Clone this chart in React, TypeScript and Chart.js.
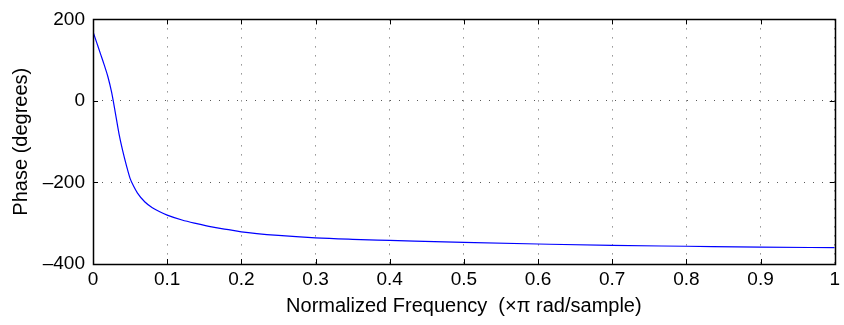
import React, { useEffect, useRef } from "react";
import { Chart, registerables } from "chart.js";

Chart.register(...registerables);

const freq = [0, 0.005, 0.01, 0.015, 0.02, 0.025, 0.03, 0.035, 0.04, 0.045, 0.05, 0.055, 0.06, 0.07, 0.08, 0.09, 0.1, 0.12, 0.14, 0.16, 0.18, 0.2, 0.25, 0.3, 0.35, 0.4, 0.5, 0.6, 0.7, 0.8, 0.9, 1.0];
const phase = [170, 143, 116, 89, 60, 22, -28, -80, -122, -158, -190, -210, -226, -248, -262, -272, -280, -292, -301, -309, -315, -321, -330, -336, -339.5, -342, -347, -351, -354.5, -356.5, -358.5, -360];
const xTicks = [0, 0.1, 0.2, 0.3, 0.4, 0.5, 0.6, 0.7, 0.8, 0.9, 1];
const yTicks = [-400, -200, 0, 200];
const xTitle = "Normalized Frequency  (\u00d7\u03c0 rad/sample)";
const yTitle = "Phase (degrees)";

const FONT = "Liberation Sans, Arial, Helvetica, sans-serif";

const boxPlugin = {
  id: "matlabBox",
  afterDraw(chart: any) {
    const { ctx, chartArea: a, scales } = chart;
    ctx.save();
    ctx.strokeStyle = "#000";
    ctx.lineWidth = 1;
    const L = 5;
    ctx.beginPath();
    for (const v of xTicks) {
      const x = Math.round(scales.x.getPixelForValue(v)) + 0.5;
      ctx.moveTo(x, a.bottom);
      ctx.lineTo(x, a.bottom - L);
      ctx.moveTo(x, a.top);
      ctx.lineTo(x, a.top + L);
    }
    for (const v of yTicks) {
      const y = Math.round(scales.y.getPixelForValue(v)) + 0.5;
      ctx.moveTo(a.left, y);
      ctx.lineTo(a.left + L, y);
      ctx.moveTo(a.right, y);
      ctx.lineTo(a.right - L, y);
    }
    ctx.stroke();
    ctx.lineWidth = 1.5;
    ctx.strokeRect(Math.round(a.left) + 0.5, Math.round(a.top) + 0.5, Math.round(a.right - a.left), Math.round(a.bottom - a.top));
    ctx.restore();
  },
};

export default function App() {
  const ref = useRef<HTMLCanvasElement>(null);
  useEffect(() => {
    const chart = new Chart(ref.current!, {
      type: "line",
      data: {
        datasets: [
          {
            data: freq.map((f, i) => ({ x: f, y: phase[i] })),
            borderColor: "#0000ff",
            borderWidth: 1.2,
            pointRadius: 0,
            fill: false,
            cubicInterpolationMode: "monotone",
          },
        ],
      },
      options: {
        responsive: false,
        animation: false,
        layout: { padding: { left: 0, right: 6, top: 19, bottom: 0 } },
        plugins: { legend: { display: false }, tooltip: { enabled: false } },
        scales: {
          x: {
            type: "linear",
            min: 0,
            max: 1,
            afterBuildTicks: (s: any) => {
              s.ticks = xTicks.map((v) => ({ value: v }));
            },
            afterFit: (s: any) => {
              s.height = 61;
            },
            ticks: {
              color: "#000",
              font: { family: FONT, size: 19 },
              padding: 4,
              maxRotation: 0,
              callback: (v: any) => String(v),
            },
            grid: { color: "rgba(0,0,0,0.65)", drawTicks: false, lineWidth: 1 },
            border: { display: false, dash: [1, 8] },
            title: {
              display: true,
              text: xTitle,
              color: "#000",
              font: { family: FONT, size: 20 },
              padding: { top: 0, bottom: 7 },
            },
          },
          y: {
            type: "linear",
            min: -400,
            max: 200,
            afterBuildTicks: (s: any) => {
              s.ticks = yTicks.map((v) => ({ value: v }));
            },
            afterFit: (s: any) => {
              s.width = 93;
            },
            ticks: {
              color: "#000",
              font: { family: FONT, size: 19 },
              padding: 8,
              callback: (v: any) => (v < 0 ? "\u2013" + String(-v) : String(v)),
            },
            grid: { color: "rgba(0,0,0,0.65)", drawTicks: false, lineWidth: 1 },
            border: { display: false, dash: [1, 8] },
            title: {
              display: true,
              text: yTitle,
              color: "#000",
              font: { family: FONT, size: 20 },
              padding: { top: 9, bottom: 0 },
            },
          },
        },
      },
      plugins: [boxPlugin],
    } as any);
    return () => chart.destroy();
  }, []);
  return (
    <div style={{ position: "fixed", left: 0, top: 0, width: 844, height: 325, background: "#fff" }}>
      <canvas ref={ref} width={844} height={325} style={{ display: "block", width: 844, height: 325 }} />
    </div>
  );
}
